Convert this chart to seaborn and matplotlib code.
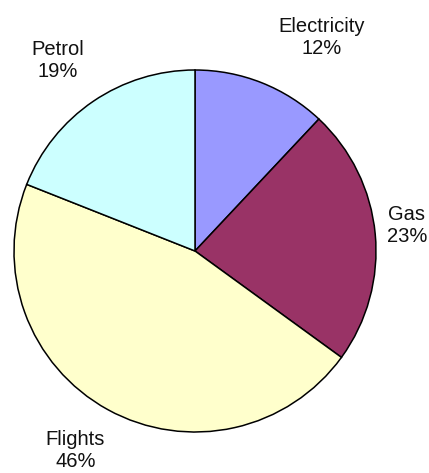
import matplotlib
matplotlib.use("Agg")
import matplotlib.pyplot as plt
import seaborn as sns

# Dados do gráfico
categorias = ["Electricity", "Gas", "Flights", "Petrol"]
valores = [12, 23, 46, 19]
cores = sns.color_palette(["#9999FF", "#993366", "#FFFFCC", "#CCFFFF"])

# Posições dos rótulos (coordenadas dos dados, raio = 1)
rotulos_x = [0.70, 1.17, -0.66, -0.76]
rotulos_y = [1.18, 0.14, -1.10, 1.055]

sns.set_theme(style="white")
plt.rcParams["font.family"] = ["Liberation Sans", "DejaVu Sans"]

fig = plt.figure(figsize=(4.29, 4.73), dpi=100)
ax = fig.add_axes([14 / 429, 41 / 473, 362 / 429, 362 / 473])

ax.pie(valores, colors=cores, startangle=90, counterclock=False,
       wedgeprops={"edgecolor": "black", "linewidth": 1.1}, radius=1)
ax.set_xlim(-1, 1)
ax.set_ylim(-1, 1)
ax.set_aspect("equal")
ax.axis("off")

total = sum(valores)
for nome, v, x, y in zip(categorias, valores, rotulos_x, rotulos_y):
    ax.text(x, y, f"{nome}\n{round(100 * v / total)}%", ha="center", va="center",
            fontsize=14.5, linespacing=1.2, color="#111111", clip_on=False)

fig.savefig("out.png", dpi=100)
